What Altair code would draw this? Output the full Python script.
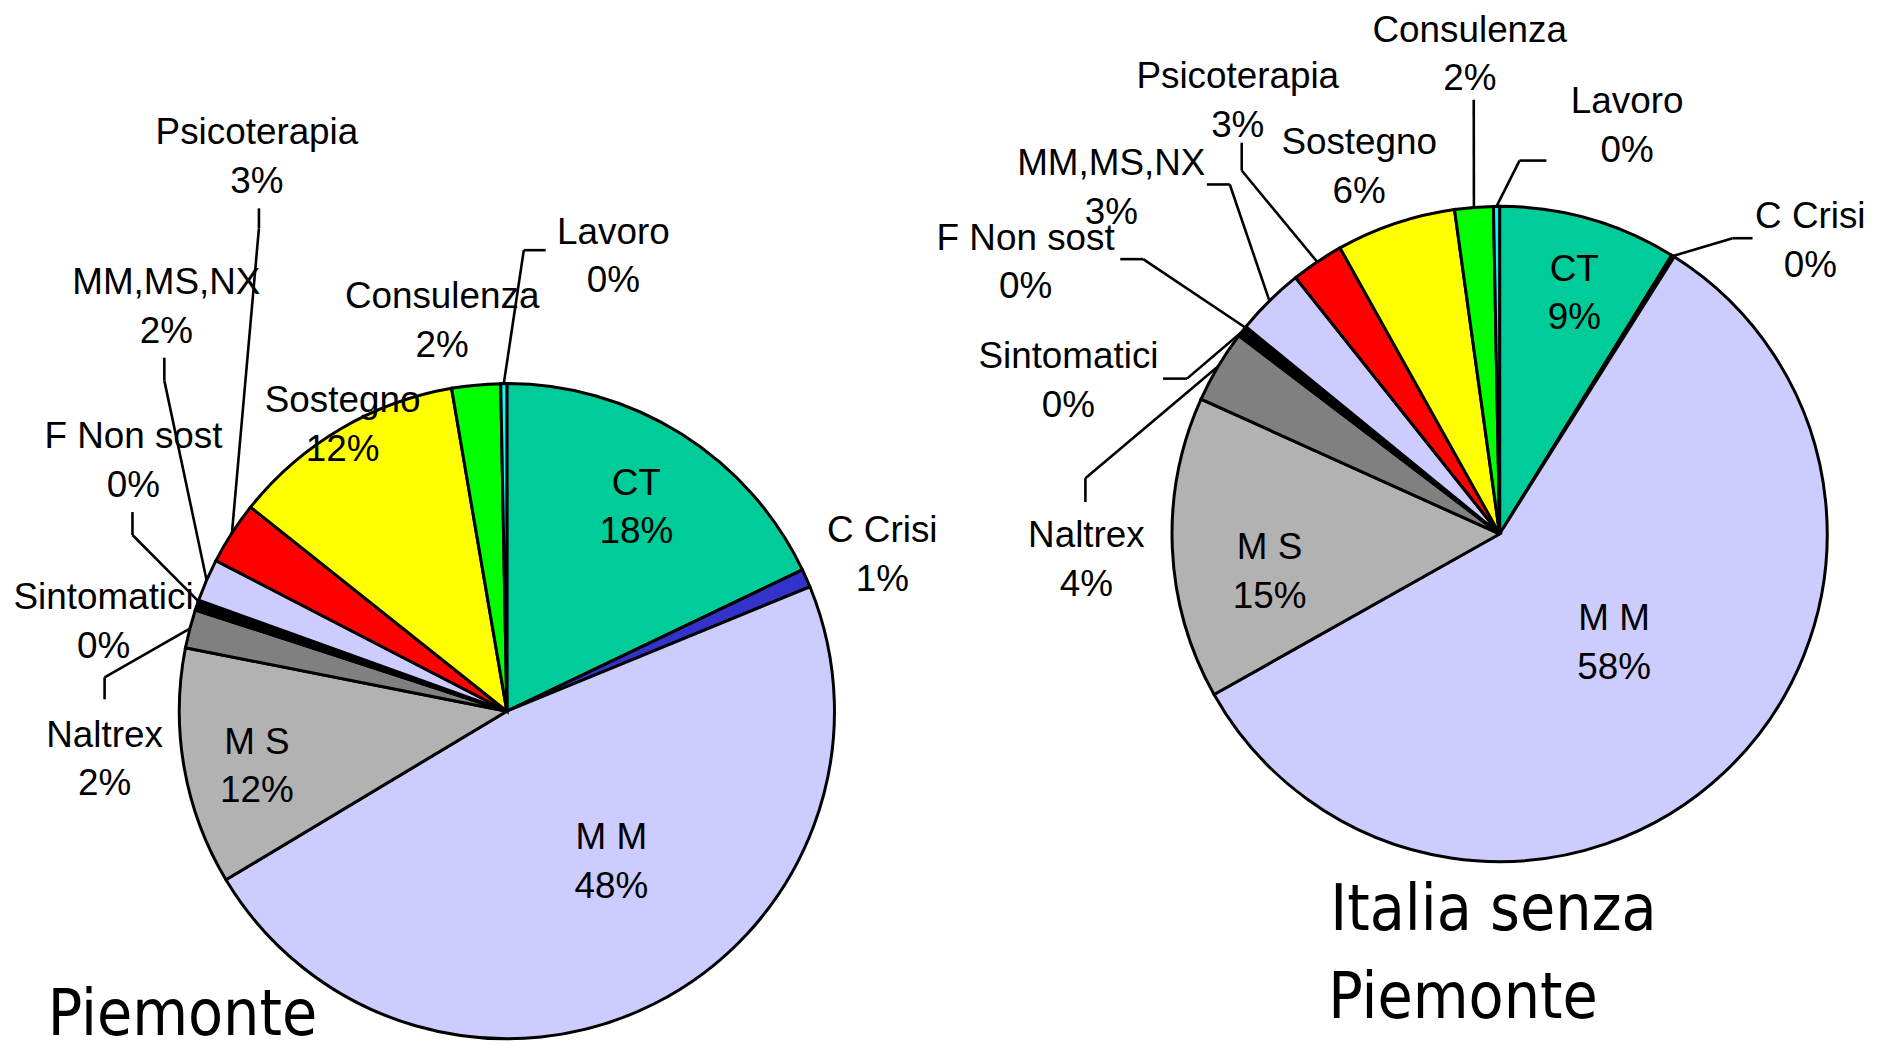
import altair as alt
import pandas as pd

# ---------------- data ----------------
CATEGORIES = ["CT", "C Crisi", "M M", "M S", "Naltrex", "Sintomatici", "F Non sost",
              "MM,MS,NX", "Psicoterapia", "Sostegno", "Consulenza", "Lavoro"]
PIEMONTE = [17.9, 0.9, 47.6, 11.7, 1.9, 0.4, 0.1, 2.1, 3.1, 11.6, 2.4, 0.3]
ITALIA = [8.8, 0.15, 57.9, 14.9, 3.6, 0.45, 0.1, 3.4, 2.6, 5.9, 1.9, 0.3]
COLORS = ["#00CC99", "#3333CC", "#CCCCFF", "#B2B2B2", "#808080", "#000000", "#0066CC",
          "#CCCCFF", "#FF0000", "#FFFF00", "#00FF00", "#00FFFF"]
TITLE_LINES = {"Piemonte": ["Piemonte"], "Italia": ["Italia senza", "Piemonte"]}

# ---------------- layout (page pixels) ----------------
M = 8
R = 329
PIES = {"Piemonte": (509, 712), "Italia": (1506, 534)}
LABEL_POS = {
    "Piemonte": {"CT": (639, 506), "C Crisi": (886, 554), "M M": (614, 862), "M S": (258, 766),
                 "Naltrex": (105, 759), "Sintomatici": (104, 621), "F Non sost": (134, 459),
                 "MM,MS,NX": (167, 305), "Psicoterapia": (258, 154), "Sostegno": (344, 423),
                 "Consulenza": (444, 319), "Lavoro": (616, 254)},
    "Italia": {"CT": (1581, 291), "C Crisi": (1818, 238), "M M": (1621, 642), "M S": (1275, 571),
               "Naltrex": (1091, 559), "Sintomatici": (1073, 379), "F Non sost": (1030, 260),
               "MM,MS,NX": (1116, 185), "Psicoterapia": (1243, 98), "Sostegno": (1365, 164),
               "Consulenza": (1476, 51), "Lavoro": (1634, 123)},
}
LEADERS = {
    "Piemonte": {"Lavoro": ((526, 249), (548, 249)), "Naltrex": ((105, 678), (105, 700)),
                 "F Non sost": ((133, 535), (133, 512)), "MM,MS,NX": ((165, 380), (165, 357)),
                 "Psicoterapia": ((260, 227), (260, 207))},
    "Italia": {"C Crisi": ((1740, 237), (1760, 237)), "Lavoro": ((1526, 159), (1553, 159)),
               "Consulenza": ((1480, 98), (1480, 98)), "Psicoterapia": ((1247, 169), (1247, 141)),
               "MM,MS,NX": ((1235, 183), (1212, 183)), "F Non sost": ((1148, 258), (1125, 258)),
               "Sintomatici": ((1192, 378), (1168, 378)), "Naltrex": ((1090, 478), (1090, 502))},
}
TITLE_POS = {"Piemonte": [(48, 1037)], "Italia": [(1336, 932), (1334, 1020)]}

FONT = "Liberation Sans"
TITLE_FONT = "'Liberation Sans Narrow', 'DejaVu Sans Condensed', sans-serif"
LINE_H = 49

rows = []
for pie, values in (("Piemonte", PIEMONTE), ("Italia", ITALIA)):
    cx, cy = PIES[pie]
    for i, (cat, v) in enumerate(zip(CATEGORIES, values)):
        lx, ly = LABEL_POS[pie][cat]
        lead = LEADERS[pie].get(cat)
        (ex, ey), (fx, fy) = lead if lead else ((0, 0), (0, 0))
        rows.append(dict(pie=pie, cat=cat, value=v, order=i,
                         cx=cx - M, cy=cy - M, lx=lx - M, ly=ly - M,
                         lead=1 if lead else 0, ex=ex - M, ey=ey - M, fx=fx - M, fy=fy - M,
                         label=f"{cat}\n{int(v + 0.5)}%"))
df = pd.DataFrame(rows)

trows = []
for pie, lines in TITLE_LINES.items():
    for line, (x, y) in zip(lines, TITLE_POS[pie]):
        trows.append(dict(text=line, x=x - M, y=y - M))
tdf = pd.DataFrame(trows)

base = (
    alt.Chart(df)
    .transform_joinaggregate(total="sum(value)", groupby=["pie"])
    .transform_window(cum="sum(value)", groupby=["pie"], sort=[alt.SortField("order")], frame=[None, 0])
    .transform_calculate(a0="2*PI*(datum.cum-datum.value)/datum.total",
                         a1="2*PI*datum.cum/datum.total")
    .transform_calculate(mid="(datum.a0+datum.a1)/2")
    .transform_calculate(sx=f"datum.cx + {R}*sin(datum.mid)",
                         sy=f"datum.cy - {R}*cos(datum.mid)")
)

px = lambda f: alt.X(f, scale=None, axis=None)
py = lambda f: alt.Y(f, scale=None, axis=None)

arcs = base.mark_arc(outerRadius=R, stroke="black", strokeWidth=3).encode(
    x=px("cx:Q"), y=py("cy:Q"),
    theta=alt.Theta("a0:Q", scale=None, stack=None), theta2="a1:Q",
    color=alt.Color("cat:N", scale=alt.Scale(domain=CATEGORIES, range=COLORS), legend=None),
)

lead1 = base.transform_filter("datum.lead == 1").mark_rule(color="black", strokeWidth=2.6).encode(
    x=px("sx:Q"), y=py("sy:Q"), x2="ex:Q", y2="ey:Q")
lead2 = base.transform_filter("datum.lead == 1").mark_rule(color="black", strokeWidth=2.6).encode(
    x=px("ex:Q"), y=py("ey:Q"), x2="fx:Q", y2="fy:Q")

labels = base.mark_text(font=FONT, fontSize=37, lineBreak="\n", lineHeight=LINE_H,
                        align="center", baseline="middle", dy=-LINE_H / 2 + 2,
                        color="black").encode(
    x=px("lx:Q"), y=py("ly:Q"), text="label:N")

titles = alt.Chart(tdf).mark_text(font=TITLE_FONT, fontSize=64, align="left",
                                  baseline="alphabetic", color="black").encode(
    x=px("x:Q"), y=py("y:Q"), text="text:N")

chart = (
    alt.layer(arcs, lead1, lead2, labels, titles)
    .properties(width=1880, height=1037, padding=0, autosize=alt.AutoSizeParams(type="none"))
    .configure_view(stroke=None)
)

chart.save("out.html", embed_options={"renderer": "svg", "actions": False})
